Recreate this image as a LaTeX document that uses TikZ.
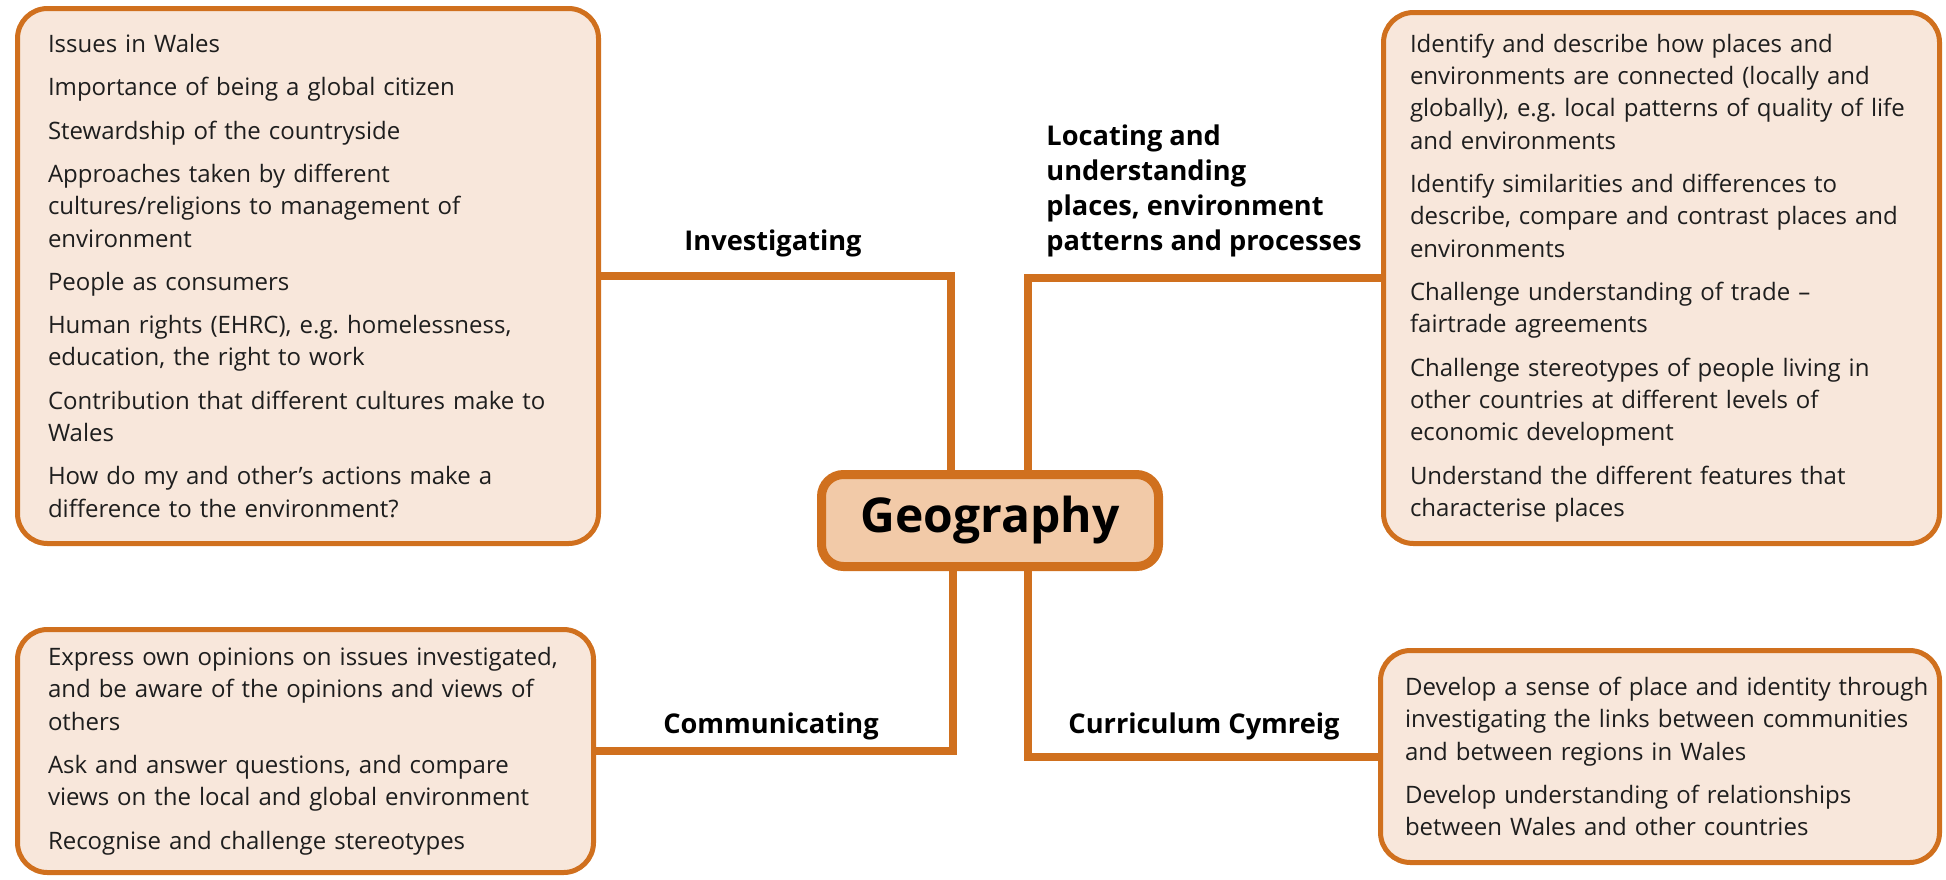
\documentclass[tikz,border=0pt]{standalone}
\usepackage{fontspec}
\setmainfont{Open Sans}
\usetikzlibrary{positioning}
\definecolor{geoorange}{HTML}{D0701E}
\definecolor{boxfill}{HTML}{F8E7DB}
\definecolor{geofill}{HTML}{F2CAA8}
\definecolor{inkgrey}{HTML}{1E1E1E}
\frenchspacing
\newcommand{\bodytext}{\fontsize{12}{16.2}\selectfont}
\newcommand{\branchtext}{\fontsize{13.6}{17.4}\selectfont\bfseries}
\newcommand{\nextitem}{\\[5.4pt]}

\begin{document}
\begin{tikzpicture}[x=0.5pt, y=-0.5pt,
		topicbox/.style={draw=geoorange, fill=boxfill, line width=2.5pt, rounded corners=15pt,
			anchor=north west, align=left, font=\bodytext, text=inkgrey, inner ysep=0pt},
		branch/.style={draw=geoorange, line width=4pt},
		branchlabel/.style={font=\branchtext, inner sep=0pt}]
	\useasboundingbox (0,0) rectangle (1946,879);
	% centre
	\node[draw=geoorange, fill=geofill, line width=4.5pt, rounded corners=11pt,
		minimum width=168.5pt, minimum height=46pt, font=\fontsize{24}{28}\selectfont\bfseries]
		(geo) at (990,520.5) {Geography};
	% the four lists
	\node[topicbox, minimum width=290.5pt, minimum height=267.5pt, inner xsep=15.25pt, text width=260pt]
		(invbox) at (15,6) {Issues in Wales\nextitem
			Importance of being a global citizen\nextitem
			Stewardship of the countryside\nextitem
			Approaches taken by different\\ cultures/religions to management of\\ environment\nextitem
			People as consumers\nextitem
			Human rights (EHRC), e.g. homelessness,\\ education, the right to work\nextitem
			Contribution that different cultures make to\\ Wales\nextitem
			How do my and other’s actions make a\\ difference to the environment?};
	\node[topicbox, minimum width=278pt, minimum height=265.5pt, inner xsep=13.25pt, text width=251.5pt]
		(locbox) at (1381,10) {Identify and describe how places and\\ environments are connected (locally and\\ \mbox{globally), e.g. local patterns of quality of life}\\ and environments\nextitem
			Identify similarities and differences to\\ describe, compare and contrast places and\\ environments\nextitem
			Challenge understanding of trade –\\ fairtrade agreements\nextitem
			Challenge stereotypes of people living in\\ other countries at different levels of\\ economic development\nextitem
			Understand the different features that\\ characterise places};
	\node[topicbox, minimum width=288pt, minimum height=121.5pt, inner xsep=15.25pt, text width=257.5pt]
		(combox) at (15,627) {Express own opinions on issues investigated,\\ and be aware of the opinions and views of\\ others\nextitem
			Ask and answer questions, and compare\\ views on the local and global environment\nextitem
			Recognise and challenge stereotypes};
	\node[topicbox, minimum width=279.5pt, minimum height=106pt, inner xsep=12.25pt, text width=255pt]
		(cymbox) at (1378,648) {\mbox{Develop a sense of place and identity through}\\ \mbox{investigating the links between communities}\\ and between regions in Wales\nextitem
			Develop understanding of relationships\\ between Wales and other countries};
	% branches
	\draw[branch] (invbox.east) -| ([xshift=-19.5pt]geo.north);
	\draw[branch] (locbox.west) -| ([xshift=19pt]geo.north);
	\draw[branch] (combox.east) -| ([xshift=-18.5pt]geo.south);
	\draw[branch] (cymbox.west) -| ([xshift=19pt]geo.south);
	\node[branchlabel] (invlabel) at (773,243) {Investigating};
	\node[branchlabel, align=left, anchor=west] (loclabel) at (1046,191) {Locating and\\ understanding\\ places, environment\\ patterns and processes};
	\node[branchlabel] (comlabel) at (771,726) {Communicating};
	\node[branchlabel] (cymlabel) at (1204,726) {Curriculum Cymreig};
\end{tikzpicture}
\end{document}
